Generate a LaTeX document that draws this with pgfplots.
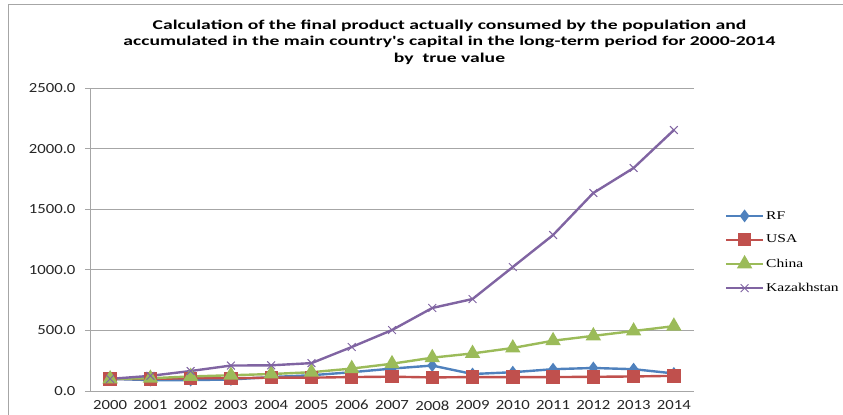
\documentclass[border=0pt]{standalone}
\usepackage{pgfplots}
\pgfplotsset{compat=1.18}
\usepackage{fontspec}
\setmainfont{Carlito}
\newfontfamily\titlefont[FakeStretch=1.46]{Carlito}
\newfontfamily\tickfont[FakeStretch=1.2]{Carlito}
\newfontfamily\legfont[FakeStretch=1.3]{Liberation Serif}
\definecolor{cRF}{HTML}{4F81BD}
\definecolor{cUSA}{HTML}{C0504D}
\definecolor{cCN}{HTML}{9BBB59}
\definecolor{cKZ}{HTML}{8064A2}
\definecolor{gridc}{HTML}{A6A6A6}
\begin{document}
\begin{tikzpicture}
\useasboundingbox (-90bp,-24bp) rectangle (753bp,391bp);
\draw[gridc,line width=0.6bp] (-82bp,-24bp) -- (-82bp,387bp) -- (753bp,387bp);
\begin{axis}[
  at={(0,0)}, anchor=south west,
  scale only axis, width=604bp, height=303bp,
  xmin=-0.5, xmax=14.5, ymin=0, ymax=2500,
  axis x line*=bottom, axis y line*=left,
  axis line style={gridc, line width=0.8bp, -},
  xtick={0,...,14},
  xticklabels={2000,2001,2002,2003,2004,2005,2006,2007,2008,2009,2010,2011,2012,2013,2014},
  major x tick style={draw=none},
  extra x ticks={-0.5,0.5,...,14.5},
  extra x tick labels={},
  extra x tick style={tick style={gridc, line width=0.8bp}, major tick length=5bp, tick align=outside, grid=none},
  ytick={0,500,...,2500},
  y tick label style={xshift=-6bp},
  /pgf/number format/fixed, /pgf/number format/fixed zerofill,
  /pgf/number format/precision=1, /pgf/number format/1000 sep={},
  /pgf/number format/assume math mode=true,
  ymajorgrids, grid style={gridc, line width=0.8bp},
  y tick style={gridc, line width=0.8bp}, tick align=outside, major tick length=5bp,
  ticklabel style={font=\tickfont\fontsize{14}{14}\selectfont, text=black!85},
  xticklabel style={yshift=-1bp},
  legend style={at={(1.046,0.607)}, anchor=north west, draw=none, fill=none,
    font=\legfont\fontsize{12}{12}\selectfont, row sep=10.5bp},
  legend cell align=left,
  legend image code/.code={\draw[mark repeat=2,mark phase=2] plot coordinates {(0cm,0cm) (0.65cm,0cm) (1.3cm,0cm)};},
  every axis plot/.append style={line width=2.4bp},
]
\addplot[cRF, mark=diamond*, mark size=4.5bp, mark options={solid}] coordinates {
(0,100)(1,90)(2,90)(3,95)(4,115)(5,130)(6,155)(7,185)(8,210)(9,140)(10,155)(11,180)(12,190)(13,180)(14,145)};
\addlegendentry{RF}
\addplot[cUSA, mark=square*, mark size=5.5bp] coordinates {
(0,100)(1,100)(2,105)(3,105)(4,110)(5,110)(6,115)(7,118)(8,112)(9,115)(10,115)(11,115)(12,117)(13,120)(14,125)};
\addlegendentry{USA}
\addplot[cCN, mark=triangle*, mark size=6.5bp] coordinates {
(0,100)(1,105)(2,120)(3,130)(4,140)(5,155)(6,185)(7,225)(8,275)(9,310)(10,355)(11,415)(12,455)(13,495)(14,535)};
\addlegendentry{China}
\addplot[cKZ, mark=x, mark size=5.5bp, mark options={line width=1bp}] coordinates {
(0,100)(1,125)(2,165)(3,210)(4,212)(5,230)(6,363)(7,503)(8,685)(9,759)(10,1023)(11,1287)(12,1634)(13,1840)(14,2153)};
\addlegendentry{Kazakhstan}
\end{axis}
\node[align=center, font=\titlefont\bfseries\fontsize{13.5}{16.5}\selectfont] at (359.5bp,349bp) {Calculation of the final product actually consumed by the population and\\accumulated in the main country's capital in the long-term period for 2000-2014\\by\ \ true value};
\end{tikzpicture}
\end{document}
